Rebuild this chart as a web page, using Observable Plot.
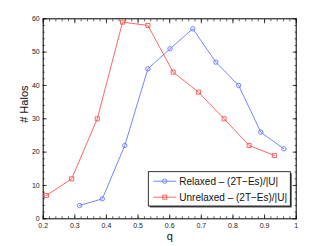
<!DOCTYPE html>
<html>
<head>
<meta charset="utf-8">
<script src="https://cdn.jsdelivr.net/npm/d3@7"></script>
<script src="https://cdn.jsdelivr.net/npm/@observablehq/plot@0.6"></script>
<style>
html,body{margin:0;padding:0;background:#fff;}
</style>
</head>
<body>
<div id="chart"></div>
<script>
const seriesNames = ["Relaxed \u2013 (2T\u2212Es)/|U|", "Unrelaxed \u2013 (2T\u2212Es)/|U|"];
const seriesColors = ["#6677ff", "#ff5555"];
const relaxedQ = [0.315, 0.387, 0.458, 0.531, 0.601, 0.673, 0.746, 0.818, 0.888, 0.961];
const relaxedN = [4, 6, 22, 45, 51, 57, 47, 40, 26, 21];
const unrelaxedQ = [0.21, 0.29, 0.371, 0.451, 0.531, 0.611, 0.691, 0.772, 0.851, 0.931];
const unrelaxedN = [7, 12, 30, 59, 58, 44, 38, 30, 22, 19];
const xTicks = [0.2, 0.3, 0.4, 0.5, 0.6, 0.7, 0.8, 0.9, 1];
const yTicks = [0, 10, 20, 30, 40, 50, 60];
const xMinor = d3.range(0.2, 1.0001, 0.02).map(v => +v.toFixed(2));
const yMinor = d3.range(0, 60.001, 2);
const xLabel = "q";
const yLabel = "# Halos";

const relaxed = relaxedQ.map((q, i) => ({q, n: relaxedN[i]}));
const unrelaxed = unrelaxedQ.map((q, i) => ({q, n: unrelaxedN[i]}));

const W = 327, H = 246;
const mL = 42.7, mR = 31.3, mT = 18.3, mB = 27.7;
const font = "'Liberation Sans', Arial, Helvetica, sans-serif";

const plot = Plot.plot({
  width: W, height: H,
  marginLeft: mL, marginRight: mR, marginTop: mT, marginBottom: mB,
  style: {fontFamily: font, background: "#fff", color: "#111"},
  x: {domain: [0.2, 1]},
  y: {domain: [0, 60]},
  marks: [
    Plot.axisX({anchor: "bottom", ticks: xMinor, tickSize: -2, text: null, label: null, strokeWidth: 0.7}),
    Plot.axisX({anchor: "top", ticks: xMinor, tickSize: -2, text: null, label: null, strokeWidth: 0.7}),
    Plot.axisY({anchor: "left", ticks: yMinor, tickSize: -2, text: null, label: null, strokeWidth: 0.7}),
    Plot.axisY({anchor: "right", ticks: yMinor, tickSize: -2, text: null, label: null, strokeWidth: 0.7}),
    Plot.axisX({anchor: "bottom", ticks: xTicks, tickSize: -4, text: null, label: null, strokeWidth: 0.8}),
    Plot.axisX({anchor: "top", ticks: xTicks, tickSize: -4, text: null, label: null, strokeWidth: 0.8}),
    Plot.axisY({anchor: "left", ticks: yTicks, tickSize: -4, text: null, label: null, strokeWidth: 0.8}),
    Plot.axisY({anchor: "right", ticks: yTicks, tickSize: -4, text: null, label: null, strokeWidth: 0.8}),
    Plot.axisX({anchor: "bottom", ticks: xTicks, tickSize: 0, tickPadding: 4, label: null, fontSize: 7, fill: "#222",
      tickFormat: d => String(+d.toFixed(1))}),
    Plot.axisY({anchor: "left", ticks: yTicks, tickSize: 0, tickPadding: 3.5, label: null, fontSize: 7, fill: "#222",
      tickFormat: d => String(d)}),
    Plot.frame({stroke: "#000", strokeWidth: 1}),
    Plot.line(relaxed, {x: "q", y: "n", stroke: seriesColors[0], strokeWidth: 0.9}),
    Plot.dot(relaxed, {x: "q", y: "n", stroke: seriesColors[0], r: 2.2, strokeWidth: 0.9, fill: "none"}),
    Plot.line(unrelaxed, {x: "q", y: "n", stroke: seriesColors[1], strokeWidth: 0.9}),
    Plot.dot(unrelaxed, {x: "q", y: "n", stroke: seriesColors[1], symbol: "square", r: 2.3, strokeWidth: 0.9, fill: "none"}),
    Plot.text([xLabel], {frameAnchor: "bottom", lineAnchor: "top", dy: 13, fontSize: 11, fill: "#111"}),
    Plot.text([yLabel], {frameAnchor: "left", lineAnchor: "bottom", rotate: -90, dx: -15, dy: 4, fontSize: 11, fill: "#111"})
  ]
});

const svg = d3.select(plot);
const lx = 148.3, ly = 171.7, lw = 142, lh = 34.3;
const lg = svg.append("g").attr("text-anchor", "start");
lg.append("rect").attr("x", lx + 1.5).attr("y", ly + 1.5).attr("width", lw).attr("height", lh).attr("fill", "#555");
lg.append("rect").attr("x", lx).attr("y", ly).attr("width", lw).attr("height", lh).attr("fill", "#fff").attr("stroke", "#000").attr("stroke-width", 0.8);
seriesNames.forEach((name, i) => {
  const yy = ly + 9.5 + i * 16;
  lg.append("line").attr("x1", lx + 5).attr("x2", lx + 28).attr("y1", yy).attr("y2", yy)
    .attr("stroke", seriesColors[i]).attr("stroke-width", 0.9);
  if (i === 0) {
    lg.append("circle").attr("cx", lx + 16.5).attr("cy", yy).attr("r", 2.2)
      .attr("fill", "none").attr("stroke", seriesColors[i]).attr("stroke-width", 0.9);
  } else {
    lg.append("rect").attr("x", lx + 16.5 - 2).attr("y", yy - 2).attr("width", 4).attr("height", 4)
      .attr("fill", "none").attr("stroke", seriesColors[i]).attr("stroke-width", 0.9);
  }
  lg.append("text").attr("x", lx + 31).attr("y", yy).attr("dy", "0.36em").attr("text-anchor", "start")
    .attr("font-size", 10).attr("font-family", font).attr("fill", "#111").text(name);
});

document.getElementById("chart").appendChild(plot);
</script>
</body>
</html>
